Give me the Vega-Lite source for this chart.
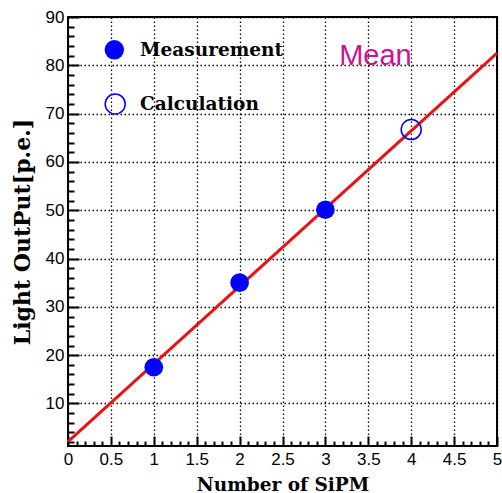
{
  "$schema": "https://vega.github.io/schema/vega-lite/v6.json",
  "width": 429,
  "height": 429,
  "autosize": "none",
  "padding": {"left": 68, "top": 17, "right": 5, "bottom": 47},
  "background": "white",
  "config": {
    "view": {"stroke": "black", "strokeWidth": 2},
    "axis": {"labelColor": "black", "titleColor": "black"}
  },
  "datasets": {
    "measured": [{"n": 1, "lo": 17.5}, {"n": 2, "lo": 35.0}, {"n": 3, "lo": 50.1}],
    "calc": [{"n": 4, "lo": 66.7}],
    "fit": [{"n": 0, "lo": 2.1}, {"n": 5, "lo": 82.5}],
    "legendFilled": [{"n": 0.54, "lo": 83.2}],
    "legendOpen": [{"n": 0.55, "lo": 72.0}],
    "legendText": [{"n": 0.84, "lo": 83.2, "label": "Measurement"}, {"n": 0.84, "lo": 72.0, "label": "Calculation"}],
    "note": [{"n": 3.16, "lo": 80.1, "label": "Mean"}]
  },
  "layer": [
    {
      "data": {"name": "fit"},
      "mark": {"type": "line", "color": "#ee1111", "strokeWidth": 3},
      "encoding": {
        "x": {
          "field": "n", "type": "quantitative",
          "scale": {"domain": [0, 5], "nice": false, "zero": false},
          "axis": {
            "orient": "bottom",
            "values": [0, 0.1, 0.2, 0.3, 0.4, 0.5, 0.6, 0.7, 0.8, 0.9, 1, 1.1, 1.2, 1.3, 1.4, 1.5, 1.6, 1.7, 1.8, 1.9, 2, 2.1, 2.2, 2.3, 2.4, 2.5, 2.6, 2.7, 2.8, 2.9, 3, 3.1, 3.2, 3.3, 3.4, 3.5, 3.6, 3.7, 3.8, 3.9, 4, 4.1, 4.2, 4.3, 4.4, 4.5, 4.6, 4.7, 4.8, 4.9, 5],
            "tickCount": 100,
            "format": "~g",
            "ticks": true, "tickColor": "black", "tickWidth": 2,
            "tickSize": {"condition": {"test": "abs(datum.value * 2 - round(datum.value * 2)) < 0.001", "value": -10}, "value": -5},
            "domain": false,
            "grid": true, "gridColor": "black", "gridDash": [1.5, 2.5], "gridWidth": 1.3,
            "gridOpacity": {"condition": {"test": "abs(datum.value * 2 - round(datum.value * 2)) < 0.001", "value": 1}, "value": 0},
            "labelOpacity": {"condition": {"test": "abs(datum.value * 2 - round(datum.value * 2)) < 0.001", "value": 1}, "value": 0},
            "labelFont": "Liberation Sans", "labelFontSize": 17, "labelPadding": 15,
            "labelFlush": false, "labelOverlap": false,
            "title": "Number of SiPM",
            "titleFont": "DejaVu Serif", "titleFontWeight": "bold", "titleFontSize": 18.5, "titlePadding": 3
          }
        },
        "y": {
          "field": "lo", "type": "quantitative",
          "scale": {"domain": [1.2, 90], "nice": false, "zero": false},
          "axis": {
            "orient": "left",
            "values": [2, 4, 6, 8, 10, 12, 14, 16, 18, 20, 22, 24, 26, 28, 30, 32, 34, 36, 38, 40, 42, 44, 46, 48, 50, 52, 54, 56, 58, 60, 62, 64, 66, 68, 70, 72, 74, 76, 78, 80, 82, 84, 86, 88, 90],
            "tickCount": 100,
            "format": "d",
            "ticks": true, "tickColor": "black", "tickWidth": 2,
            "tickSize": {"condition": {"test": "datum.value % 10 === 0", "value": -11}, "value": -6},
            "domain": false,
            "grid": true, "gridColor": "black", "gridDash": [1.5, 2.5], "gridWidth": 1.3,
            "gridOpacity": {"condition": {"test": "datum.value % 10 === 0", "value": 1}, "value": 0},
            "labelOpacity": {"condition": {"test": "datum.value % 10 === 0", "value": 1}, "value": 0},
            "labelFont": "Liberation Sans", "labelFontSize": 17, "labelPadding": 15,
            "labelOverlap": false,
            "title": "Light OutPut[p.e.]",
            "titleFont": "DejaVu Serif", "titleFontWeight": "bold", "titleFontSize": 22, "titlePadding": 6
          }
        }
      }
    },
    {
      "data": {"name": "measured"},
      "mark": {"type": "point", "filled": true, "shape": "circle", "color": "#0000ff", "opacity": 1, "size": 350},
      "encoding": {
        "x": {"field": "n", "type": "quantitative"},
        "y": {"field": "lo", "type": "quantitative"}
      }
    },
    {
      "data": {"name": "calc"},
      "mark": {"type": "point", "filled": false, "shape": "circle", "color": "#0000ff", "opacity": 1, "size": 400, "strokeWidth": 1.5},
      "encoding": {
        "x": {"field": "n", "type": "quantitative"},
        "y": {"field": "lo", "type": "quantitative"}
      }
    },
    {
      "data": {"name": "legendFilled"},
      "mark": {"type": "point", "filled": true, "shape": "circle", "color": "#0000ff", "opacity": 1, "size": 380},
      "encoding": {
        "x": {"field": "n", "type": "quantitative"},
        "y": {"field": "lo", "type": "quantitative"}
      }
    },
    {
      "data": {"name": "legendOpen"},
      "mark": {"type": "point", "filled": false, "shape": "circle", "color": "#0000ff", "opacity": 1, "size": 400, "strokeWidth": 1.5},
      "encoding": {
        "x": {"field": "n", "type": "quantitative"},
        "y": {"field": "lo", "type": "quantitative"}
      }
    },
    {
      "data": {"name": "legendText"},
      "mark": {"type": "text", "align": "left", "baseline": "middle", "font": "DejaVu Serif", "fontWeight": "bold", "fontSize": 18.5, "color": "black"},
      "encoding": {
        "x": {"field": "n", "type": "quantitative"},
        "y": {"field": "lo", "type": "quantitative"},
        "text": {"field": "label"}
      }
    },
    {
      "data": {"name": "note"},
      "mark": {"type": "text", "align": "left", "baseline": "alphabetic", "font": "Liberation Sans", "fontSize": 29, "color": "#cc1199"},
      "encoding": {
        "x": {"field": "n", "type": "quantitative"},
        "y": {"field": "lo", "type": "quantitative"},
        "text": {"field": "label"}
      }
    }
  ]
}
